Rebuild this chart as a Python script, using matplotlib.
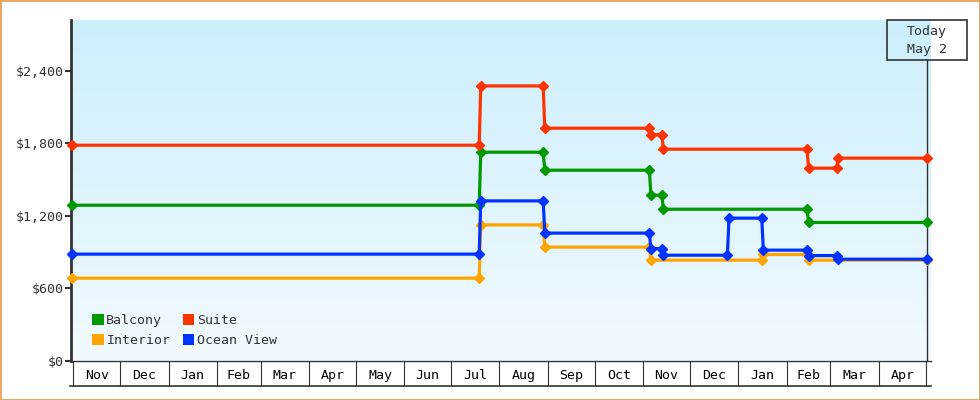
import numpy as np
import pandas as pd
import matplotlib
matplotlib.use('Agg')
from matplotlib import pyplot as plt
from matplotlib.patches import Patch, Rectangle

plt.rcParams['font.family'] = ['DejaVu Sans Mono']
plt.rcParams['font.size'] = 9.5

# price history per cabin type (date of each point, price)
balcony_dates = ['2020-10-31', '2021-07-19', '2021-07-20', '2021-08-29', '2021-08-30',
                 '2021-11-05', '2021-11-06', '2021-11-13', '2021-11-14', '2022-02-14',
                 '2022-02-15', '2022-05-02']
balcony_prices = [1286, 1286, 1725, 1725, 1576, 1576, 1369, 1369, 1253, 1253, 1143, 1143]

suite_dates = ['2020-10-31', '2021-07-19', '2021-07-20', '2021-08-29', '2021-08-30',
               '2021-11-05', '2021-11-06', '2021-11-13', '2021-11-14', '2022-02-14',
               '2022-02-15', '2022-03-05', '2022-03-06', '2022-05-02']
suite_prices = [1783, 1783, 2274, 2274, 1924, 1924, 1871, 1871, 1750, 1750,
                1593, 1593, 1676, 1676]

interior_dates = ['2020-10-31', '2021-07-19', '2021-07-20', '2021-08-29', '2021-08-30',
                  '2021-11-05', '2021-11-06', '2022-01-16', '2022-01-17', '2022-02-14',
                  '2022-02-15', '2022-05-02']
interior_prices = [682, 682, 1123, 1123, 939, 939, 831, 831, 878, 878, 831, 831]

ocean_dates = ['2020-10-31', '2021-07-19', '2021-07-20', '2021-08-29', '2021-08-30',
               '2021-11-05', '2021-11-06', '2021-11-13', '2021-11-14', '2021-12-25',
               '2021-12-26', '2022-01-16', '2022-01-17', '2022-02-14', '2022-02-15',
               '2022-03-05', '2022-03-06', '2022-05-02']
ocean_prices = [881, 881, 1322, 1322, 1055, 1055, 927, 927, 872, 872,
                1179, 1179, 914, 914, 869, 869, 839, 839]

series_names = ['Balcony', 'Interior', 'Suite', 'Ocean View']
series_colors = ['#009900', '#ffa500', '#ff3300', '#0033ff']

y_ticks = [0, 600, 1200, 1800, 2400]
today = pd.Timestamp('2022-05-02')
today_label = ['Today', 'May 2']

W, H = 980, 400
fig = plt.figure(figsize=(W / 100, H / 100), dpi=100)
fig.patch.set_facecolor('white')

ax_pos = [71 / W, 39.5 / H, (930.7 - 71) / W, (360.5 - 20) / H]

# gradient background
bg = fig.add_axes(ax_pos, zorder=0)
top_c = np.array([204, 239, 252]) / 255
bot_c = np.array([242, 250, 255]) / 255
t = np.linspace(0, 1, 256)[:, None]
grad = (top_c[None, :] * (1 - t) + bot_c[None, :] * t)[:, None, :]
bg.imshow(grad, aspect='auto', extent=[0, 1, 0, 1])
bg.axis('off')

ax = fig.add_axes(ax_pos, zorder=1)
ax.patch.set_alpha(0)

all_series = [
    (balcony_dates, balcony_prices),
    (interior_dates, interior_prices),
    (suite_dates, suite_prices),
    (ocean_dates, ocean_prices),
]
draw_order = [0, 2, 1, 3]
for i in draw_order:
    d, p = all_series[i]
    ax.plot(pd.to_datetime(d), p, color=series_colors[i], lw=2.3,
            marker='D', markersize=5.5, clip_on=False, zorder=3)

x0 = pd.Timestamp('2020-10-31') - pd.Timedelta(hours=11)
x1 = today + pd.Timedelta(hours=53)
ax.set_xlim(x0, x1)
ax.set_ylim(0, 2820)

# y axis
ax.set_yticks(y_ticks)
ax.set_yticklabels(['${:,}'.format(v) for v in y_ticks])
ax.tick_params(axis='y', length=4.5, width=1.5, color='#333333',
               labelcolor='#333333', pad=1)
ax.spines['left'].set_linewidth(2)
ax.spines['left'].set_color('#333333')
ax.spines['top'].set_visible(False)
ax.spines['right'].set_visible(False)
ax.spines['bottom'].set_color('#333333')
ax.spines['bottom'].set_linewidth(1)

# month boxes on x axis
month_starts = pd.date_range('2020-11-01', '2022-05-01', freq='MS')
mids = [a + (b - a) / 2 for a, b in zip(month_starts[:-1], month_starts[1:])]
ax.set_xticks(mids)
ax.set_xticklabels([m.strftime('%b') for m in mids])
ax.set_xticks(month_starts, minor=True)
ax.tick_params(axis='x', which='major', length=0, pad=6, labelcolor='black')
ax.tick_params(axis='x', which='minor', length=18, width=0.8, color='#333333',
               direction='out')
ax.plot([-1 / 860, 1], [-25 / 340, -25 / 340], transform=ax.transAxes,
        color='#333333', lw=1.2, clip_on=False)

# today marker
ax.axvline(today, ymin=0, ymax=1 - 40 / 340, color='#333333', lw=1, zorder=2)
fig.patches.append(Rectangle((887 / W, 1 - 60 / H), 80 / W, 40 / H,
                             transform=fig.transFigure, fill=False,
                             edgecolor='#333333', lw=1.2, zorder=5))
fig.text(927 / W, 1 - 32 / H, today_label[0], ha='center', va='center',
         color='#333333', zorder=6)
fig.text(927 / W, 1 - 50 / H, today_label[1], ha='center', va='center',
         color='#333333', zorder=6)

handles = [Patch(facecolor=c, edgecolor='none') for c in series_colors]
ax.legend(handles, series_names, ncol=2, loc='lower left',
          bbox_to_anchor=(0.025, 0.04), frameon=False, borderpad=0,
          handlelength=0.85, handleheight=0.85, handletextpad=0.2,
          columnspacing=0.95, labelspacing=0.5, borderaxespad=0,
          labelcolor='#333333')

# outer border
fig.patches.append(Rectangle((0, 0), 1, 1, transform=fig.transFigure,
                             fill=False, edgecolor='#e8a866', lw=2.2))

fig.savefig('out.png', dpi=100)
